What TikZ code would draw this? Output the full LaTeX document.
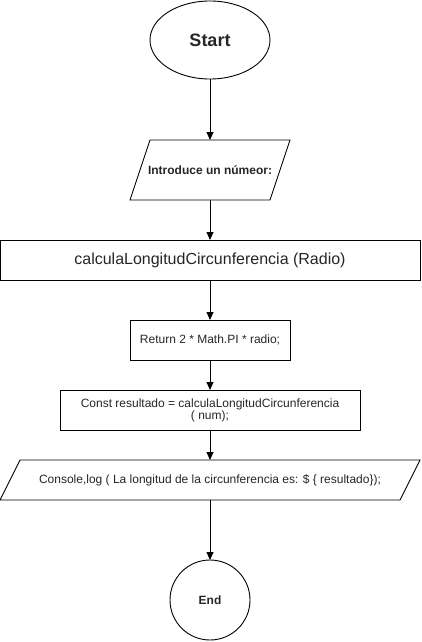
\documentclass[tikz,border=0pt]{standalone}
\usepackage{fontspec}
\setmainfont{Liberation Sans}
\usetikzlibrary{arrows.meta,shapes.geometric}
\begin{document}
\begin{tikzpicture}[x=1pt,y=-1pt,
  every node/.style={inner sep=0pt,outer sep=0pt,align=center,text=black!85},
  boxnode/.style={draw,line width=0.9pt,rectangle},
  parabox/.style={rectangle},
  flow/.style={line width=0.9pt,-{Triangle[length=8pt,width=7pt]}},
  paraline/.style={line width=0.9pt}]
\useasboundingbox (0,0) rectangle (422,642);
\node[draw,line width=0.9pt,ellipse,minimum width=120,minimum height=78] (start) at (210,40) {\fontsize{18}{21}\selectfont\bfseries Start};
\node[parabox,minimum width=160,minimum height=60] (inp) at (210,170) {\fontsize{12}{14}\selectfont\bfseries Introduce un númeor:};
\draw[paraline] ([xshift=20]inp.north west) -- (inp.north east) -- ([xshift=-20]inp.south east) -- (inp.south west) -- cycle;
\node[boxnode,minimum width=420,minimum height=40] (calc) at (210,260) {\fontsize{16}{19}\selectfont calculaLongitudCircunferencia (Radio)};
\node[boxnode,minimum width=160,minimum height=40] (ret) at (210,340) {\fontsize{12}{14}\selectfont Return 2 * Math.PI * radio;};
\node[boxnode,minimum width=300,minimum height=40] (const) at (210,410) {\fontsize{12}{14}\selectfont Const resultado = calculaLongitudCircunferencia\\\fontsize{12}{14}\selectfont ( num);};
\node[parabox,minimum width=420,minimum height=40] (out) at (210,480) {\fontsize{12}{14}\selectfont Console,log ( La longitud de la circunferencia es: \$ \{ resultado\});};
\draw[paraline] ([xshift=20]out.north west) -- (out.north east) -- ([xshift=-20]out.south east) -- (out.south west) -- cycle;
\node[draw,line width=0.9pt,circle,minimum size=80] (end) at (210,600) {\fontsize{12}{14}\selectfont\bfseries End};
\draw[flow] (start) -- (inp);
\draw[flow] (inp) -- (calc);
\draw[flow] (calc) -- (ret);
\draw[flow] (ret) -- (const);
\draw[flow] (const) -- (out);
\draw[flow] (out) -- (end);
\end{tikzpicture}
\end{document}
